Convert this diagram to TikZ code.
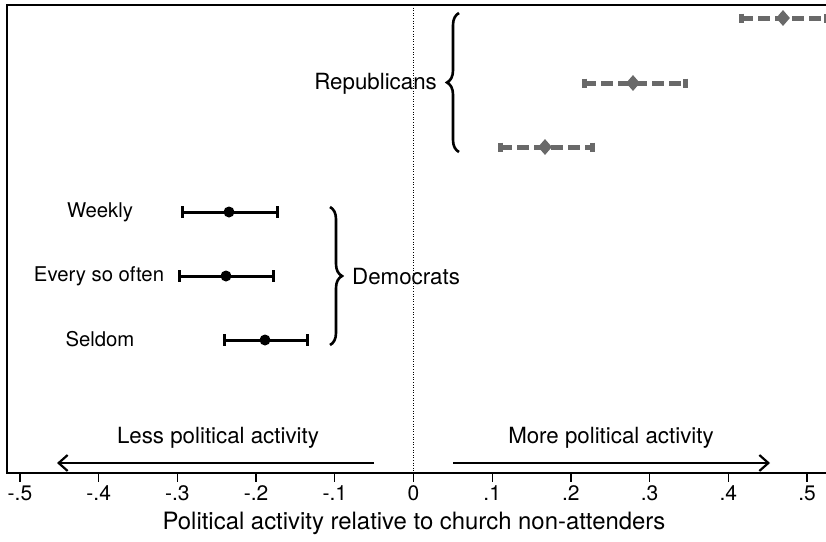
\documentclass[tikz,border=0pt]{standalone}
\usepackage{fontspec}
\setmainfont{TeX Gyre Heros}
\usetikzlibrary{arrows.meta,decorations.pathreplacing,shapes.geometric}
\definecolor{repgray}{RGB}{105,105,105}
\tikzset{
  lab/.style={inner sep=0pt,font=\fontsize{20.3}{24}\selectfont},
  biglab/.style={inner sep=0pt,font=\fontsize{22.3}{26}\selectfont},
  ticklab/.style={inner sep=0pt,font=\fontsize{21}{25}\selectfont},
  axtitle/.style={inner sep=0pt,font=\fontsize{23.9}{28}\selectfont},
  dembar/.style={line width=3pt,black},
  demcap/.style={line width=3pt,black},
  repbar/.style={line width=5pt,repgray,dash pattern=on 12pt off 5pt},
  repcap/.style={line width=5pt,repgray},
  dotmark/.style={circle,fill=black,inner sep=0pt,minimum size=11pt},
  diamark/.style={diamond,fill=repgray,inner sep=0pt,minimum width=14pt,minimum height=16pt},
  bracestyle/.style={decorate,decoration={brace,amplitude=12pt},line width=2.6pt},
  dirarrow/.style={line width=2.4pt,-{Straight Barb[length=9pt,width=16pt,line width=2.2pt]}},
  tickline/.style={line width=1.3pt}
}
\begin{document}
\begin{tikzpicture}[x=1pt,y=-1pt]
\useasboundingbox (0,0) rectangle (826,541);
\fill[white] (0,0) rectangle (826,541);
% frame
\draw[line width=1.5pt] (840,5) -- (7,5) -- (7,473) -- (840,473);
% zero line
\coordinate (ztop) at (413.5,5);
\coordinate (zbot) at (413.5,473);
\draw[line width=0.9pt,dash pattern=on 1pt off 1.6pt] (ztop) -- (zbot);
% ticks
\foreach \v/\t [count=\i] in {-0.5/-.5,-0.4/-.4,-0.3/-.3,-0.2/-.2,-0.1/-.1,0/0,0.1/.1,0.2/.2,0.3/.3,0.4/.4,0.5/.5}{
  \coordinate (tk\i) at ({413.5+\v*787},473);
  \coordinate (tb\i) at ({413.5+\v*787},482);
  \draw[tickline] (tk\i) -- (tb\i);
  \node[ticklab] (tl\i) at ({413.5+\v*787},493) {\t};
}
\node[axtitle] (title) at (414,523) {Political activity relative to church non-attenders};
% direction arrows
\node[biglab] (less) at (218,438) {Less political activity};
\node[biglab] (more) at (611,438) {More political activity};
\coordinate (la) at (374,463);
\coordinate (lb) at (57,463);
\coordinate (ra) at (453,463);
\coordinate (rb) at (770,463);
\draw[dirarrow] (la) -- (lb);
\draw[dirarrow] (ra) -- (rb);
% Republicans
\foreach \n/\y/\a/\m/\b in {r1/18/741/783/826, r2/83/584/633/685, r3/147/500/545/592}{
  \coordinate (\n L) at (\a,\y);
  \coordinate (\n R) at (\b,\y);
  \draw[repbar] (\n L) -- (\n R);
  \draw[repcap] (\a,\y-4.5) -- (\a,\y+4.5);
  \draw[repcap] (\b,\y-4.5) -- (\b,\y+4.5);
  \node[diamark] (\n M) at (\m,\y) {};
}
% Democrats
\foreach \n/\y/\a/\m/\b in {d1/212/182/229/277, d2/276/179/226/273, d3/340/224/265/307}{
  \coordinate (\n L) at (\a,\y);
  \coordinate (\n R) at (\b,\y);
  \draw[dembar] (\n L) -- (\n R);
  \draw[demcap] (\a,\y-6) -- (\a,\y+6);
  \draw[demcap] (\b,\y-6) -- (\b,\y+6);
  \node[dotmark] (\n M) at (\m,\y) {};
}
\node[lab] (weekly) at (100,212) {Weekly};
\node[lab] (often) at (99,276) {Every so often};
\node[lab] (seldom) at (100,339) {Seldom};
% braces
\coordinate (rbb) at (459,152);
\coordinate (rbt) at (459,13);
\draw[bracestyle] (rbb) -- (rbt);
\node[biglab,anchor=east] (rep) at (437,84) {Republicans};
\coordinate (dbt) at (330,207);
\coordinate (dbb) at (330,345);
\draw[bracestyle] (dbt) -- (dbb);
\node[biglab,anchor=west] (dem) at (352,277) {Democrats};
\end{tikzpicture}
\end{document}
